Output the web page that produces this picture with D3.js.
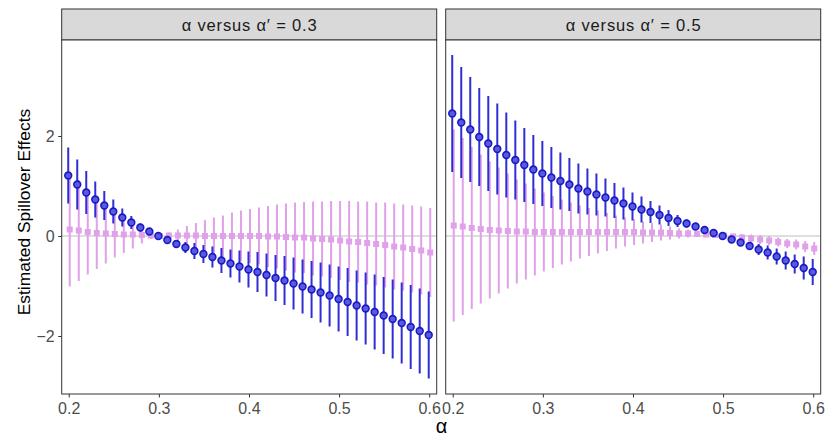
<!DOCTYPE html>
<html>
<head>
<meta charset="utf-8">
<script src="https://cdn.jsdelivr.net/npm/d3@7"></script>
<style>
  body { margin: 0; background: #fff; }
  svg { display: block; font-family: "Liberation Sans", Arial, sans-serif; }
</style>
</head>
<body>
<svg id="chart" width="830" height="443"></svg>
<script>
// ---------------- data ----------------
const alphaValues = [0.20,0.21,0.22,0.23,0.24,0.25,0.26,0.27,0.28,0.29,0.30,0.31,0.32,0.33,0.34,0.35,0.36,0.37,0.38,0.39,0.40,
                     0.41,0.42,0.43,0.44,0.45,0.46,0.47,0.48,0.49,0.50,0.51,0.52,0.53,0.54,0.55,0.56,0.57,0.58,0.59,0.60];

const panelTitles = ["α versus α′ = 0.3", "α versus α′ = 0.5"];
const xTicks = [0.2, 0.3, 0.4, 0.5, 0.6];
const yTicks = [-2, 0, 2];

// panel 1 (alpha' = 0.3): blue estimates and CI half-widths
const blueMean03 = [1.21,1.03,0.87,0.73,0.61,0.49,0.37,0.27,0.17,0.09,0.00,-0.08,-0.16,-0.23,-0.30,-0.36,-0.42,-0.49,-0.55,-0.61,-0.67,
                    -0.72,-0.78,-0.84,-0.89,-0.95,-1.01,-1.07,-1.13,-1.19,-1.26,-1.32,-1.39,-1.45,-1.52,-1.59,-1.66,-1.74,-1.82,-1.90,-1.98];
const blueHalf03 = [0.56,0.50,0.43,0.36,0.29,0.24,0.18,0.13,0.08,0.04,0.01,0.04,0.08,0.11,0.16,0.18,0.21,0.25,0.28,0.32,0.36,
                    0.40,0.43,0.46,0.49,0.52,0.54,0.57,0.60,0.62,0.65,0.68,0.70,0.72,0.75,0.77,0.79,0.81,0.84,0.85,0.87];
// panel 1: pink estimates and CI half-widths
const pinkMean03 = [0.13,0.11,0.08,0.06,0.05,0.04,0.03,0.03,0.02,0.01,0.00,0.01,0.01,0.01,0.01,0.00,0.00,0.00,0.00,0.00,0.00,
                    0.00,-0.01,-0.01,-0.02,-0.03,-0.03,-0.05,-0.06,-0.07,-0.09,-0.11,-0.12,-0.14,-0.16,-0.18,-0.21,-0.23,-0.26,-0.29,-0.33];
const pinkHalf03 = [1.14,1.01,0.85,0.72,0.60,0.47,0.37,0.28,0.17,0.07,0.02,0.06,0.12,0.19,0.25,0.32,0.37,0.41,0.47,0.51,0.54,
                    0.57,0.61,0.64,0.67,0.70,0.71,0.74,0.75,0.77,0.79,0.81,0.81,0.83,0.83,0.85,0.86,0.86,0.87,0.88,0.89];

// panel 2 (alpha' = 0.5)
const blueMean05 = [2.45,2.27,2.13,1.98,1.85,1.74,1.62,1.52,1.42,1.33,1.25,1.17,1.10,1.03,0.95,0.89,0.83,0.77,0.71,0.65,0.59,
                    0.53,0.48,0.42,0.36,0.30,0.25,0.19,0.12,0.06,0.00,-0.07,-0.13,-0.20,-0.27,-0.33,-0.41,-0.49,-0.56,-0.64,-0.72];
const blueHalf05 = [1.17,1.11,1.05,0.98,0.95,0.91,0.85,0.79,0.74,0.69,0.65,0.61,0.57,0.53,0.50,0.46,0.42,0.38,0.35,0.32,0.28,
                    0.26,0.22,0.19,0.16,0.12,0.08,0.05,0.03,0.02,0.01,0.03,0.05,0.08,0.11,0.14,0.16,0.18,0.19,0.23,0.26];
const pinkMean05 = [0.21,0.19,0.16,0.14,0.12,0.11,0.10,0.09,0.09,0.08,0.08,0.08,0.08,0.08,0.08,0.08,0.08,0.08,0.08,0.08,0.08,
                    0.07,0.07,0.07,0.06,0.05,0.05,0.04,0.03,0.02,0.01,-0.01,-0.03,-0.05,-0.07,-0.09,-0.12,-0.15,-0.17,-0.21,-0.25];
const pinkHalf05 = [1.92,1.77,1.62,1.49,1.37,1.26,1.15,1.04,0.96,0.87,0.79,0.72,0.65,0.59,0.53,0.48,0.43,0.38,0.33,0.29,0.26,
                    0.22,0.19,0.16,0.13,0.10,0.08,0.06,0.05,0.04,0.04,0.05,0.07,0.08,0.09,0.09,0.09,0.09,0.10,0.11,0.13];

const panels = [
  { title: panelTitles[0], blueMean: blueMean03, blueHalf: blueHalf03, pinkMean: pinkMean03, pinkHalf: pinkHalf03 },
  { title: panelTitles[1], blueMean: blueMean05, blueHalf: blueHalf05, pinkMean: pinkMean05, pinkHalf: pinkHalf05 }
];

// ---------------- layout ----------------
const svg = d3.select("#chart");
const panelLefts = [61.7, 445.7];
const panelW = 375;
const plotTop = 40, plotBottom = 394;
const stripTop = 9;

const y = d3.scaleLinear().domain([-3.16, 3.92]).range([plotBottom, plotTop]);

const blueBar = "#2e2ed4", blueStroke = "#1a1ac4", blueFill = "#5a5ae0";
const pink = "#e1a0ea";
const textGray = "#4d4d4d", borderCol = "#333333";
const tickFont = 16;

panels.forEach((p, pi) => {
  const x0 = panelLefts[pi];
  const x = d3.scaleLinear().domain([0.1922, 0.6083]).range([x0, x0 + panelW]);
  const g = svg.append("g");

  // strip
  g.append("rect").attr("x", x0).attr("y", stripTop).attr("width", panelW).attr("height", plotTop - stripTop)
    .attr("fill", "#d9d9d9").attr("stroke", borderCol).attr("stroke-width", 1);
  g.append("text").attr("x", x0 + panelW / 2).attr("y", 31).attr("text-anchor", "middle")
    .attr("font-size", 16.5).attr("fill", "#1a1a1a")
    .attr("textLength", 135).attr("lengthAdjust", "spacing").text(p.title);

  // panel background
  g.append("rect").attr("x", x0).attr("y", plotTop).attr("width", panelW).attr("height", plotBottom - plotTop)
    .attr("fill", "#fff");

  // zero reference line
  g.append("line").attr("x1", x0).attr("x2", x0 + panelW).attr("y1", y(0)).attr("y2", y(0))
    .attr("stroke", "#bdbdbd").attr("stroke-width", 1);

  const data = alphaValues.map((a, i) => ({
    a, bm: p.blueMean[i], bh: p.blueHalf[i], pm: p.pinkMean[i], ph: p.pinkHalf[i]
  }));

  const pinkOff = 1.0, blueOff = -0.5;

  // pink error bars
  g.selectAll(".pbar").data(data).join("line")
    .attr("x1", d => x(d.a) + pinkOff).attr("x2", d => x(d.a) + pinkOff)
    .attr("y1", d => y(d.pm - d.ph)).attr("y2", d => y(d.pm + d.ph))
    .attr("stroke", pink).attr("stroke-width", 2);
  // pink squares
  g.selectAll(".psq").data(data).join("rect")
    .attr("x", d => x(d.a) + pinkOff - 3).attr("y", d => y(d.pm) - 3)
    .attr("width", 6).attr("height", 6).attr("fill", pink);

  // blue error bars
  g.selectAll(".bbar").data(data).join("line")
    .attr("x1", d => x(d.a) + blueOff).attr("x2", d => x(d.a) + blueOff)
    .attr("y1", d => y(d.bm - d.bh)).attr("y2", d => y(d.bm + d.bh))
    .attr("stroke", blueBar).attr("stroke-width", 2);
  // blue circles
  g.selectAll(".bpt").data(data).join("circle")
    .attr("cx", d => x(d.a) + blueOff).attr("cy", d => y(d.bm)).attr("r", 3.4)
    .attr("fill", blueFill).attr("stroke", blueStroke).attr("stroke-width", 1.6);

  // panel border
  g.append("rect").attr("x", x0).attr("y", plotTop).attr("width", panelW).attr("height", plotBottom - plotTop)
    .attr("fill", "none").attr("stroke", borderCol).attr("stroke-width", 1);

  // x axis
  const xAxis = d3.axisBottom(x).tickValues(xTicks).tickFormat(d3.format(".1f")).tickSize(3.5).tickPadding(5);
  const xa = g.append("g").attr("transform", `translate(0,${plotBottom})`).call(xAxis);
  xa.select(".domain").remove();
  xa.selectAll("line").attr("stroke", borderCol);
  xa.selectAll("text").attr("font-size", tickFont).attr("fill", textGray).attr("font-family", "Liberation Sans, Arial, sans-serif");

  if (pi === 0) {
    const yAxis = d3.axisLeft(y).tickValues(yTicks).tickFormat(d => d < 0 ? "\u2212" + Math.abs(d) : String(d))
      .tickSize(3.5).tickPadding(3.5);
    const ya = g.append("g").attr("transform", `translate(${x0},0)`).call(yAxis);
    ya.select(".domain").remove();
    ya.selectAll("line").attr("stroke", borderCol);
    ya.selectAll("text").attr("font-size", tickFont).attr("fill", textGray).attr("font-family", "Liberation Sans, Arial, sans-serif");
  }
});

// axis titles
svg.append("text").attr("transform", "translate(30,212) rotate(-90)").attr("text-anchor", "middle")
  .attr("font-size", 17.4).attr("fill", "#000").text("Estimated Spillover Effects");
svg.append("text").attr("x", 441.5).attr("y", 433).attr("text-anchor", "middle")
  .attr("font-size", 20).attr("fill", "#000").text("α");
</script>
</body>
</html>
